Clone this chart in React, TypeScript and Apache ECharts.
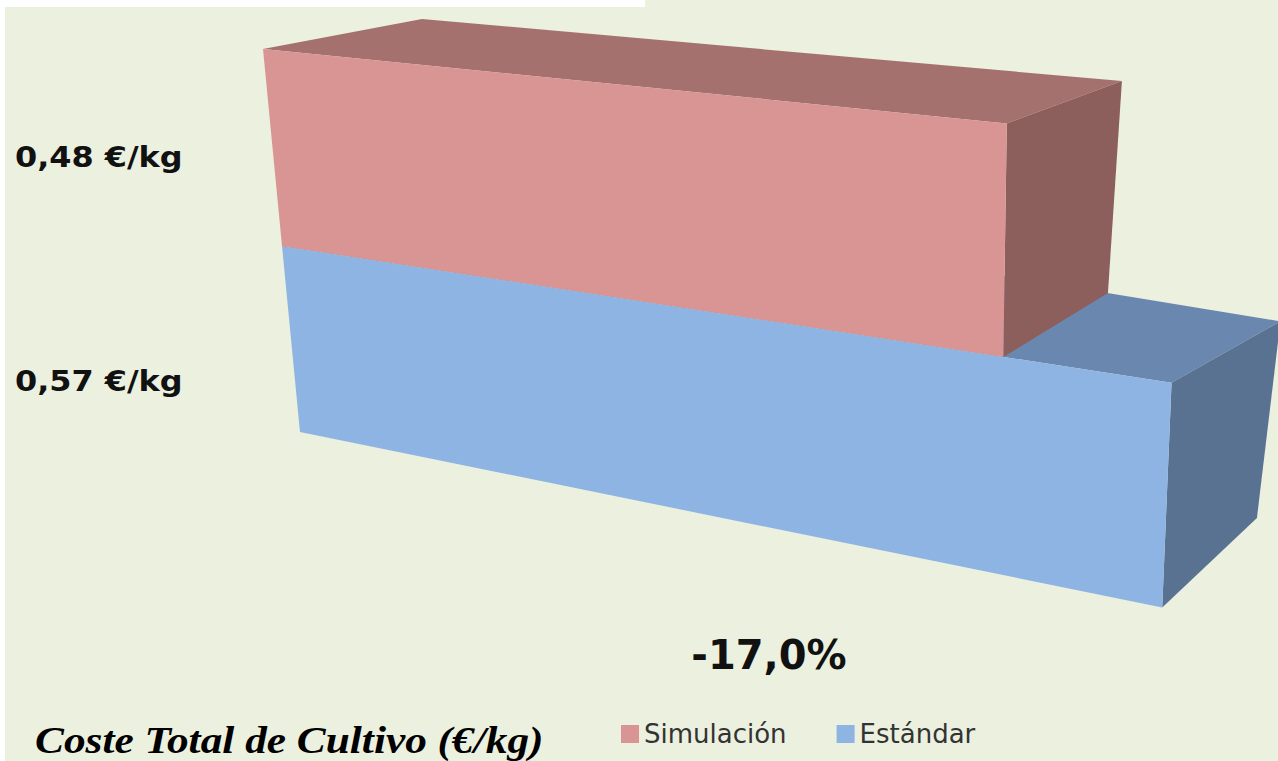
import React, { useEffect, useRef } from "react";
import * as echarts from "echarts";

// ---- data ----
const categories = ["Estándar", "Simulación"];
const costs = [0.57, 0.48];
const legendOrder = ["Simulación", "Estándar"];
const changeLabel = "-17,0%";
const chartTitle = "Coste Total de Cultivo (€/kg)";
const axisMin = 0;
const axisMax = 0.6;

// ---- styles ----
const faceColors: Record<string, { front: string; top: string; side: string }> = {
  "Simulación": { front: "#D99594", top: "#A5716F", side: "#8C5E5C" },
  "Estándar": { front: "#8DB4E2", top: "#6A88AF", side: "#5A7291" },
};
const labelY: Record<string, number> = { "Simulación": 157, "Estándar": 381 };

// view transform: the flat plot rectangle is projected onto a front wall and a back wall
const FRONT_QUAD = [[263, 49], [1243, 147], [1219, 619], [300, 432]];
const BACK_QUAD = [[422, 19], [1374.5, 103.4], [1314.9, 531.4], [463.8, 334.7]];

function squareToQuad(q: number[][]) {
  const [x0, y0] = q[0], [x1, y1] = q[1], [x2, y2] = q[2], [x3, y3] = q[3];
  const dx1 = x1 - x2, dx2 = x3 - x2, dx3 = x0 - x1 + x2 - x3;
  const dy1 = y1 - y2, dy2 = y3 - y2, dy3 = y0 - y1 + y2 - y3;
  const den = dx1 * dy2 - dx2 * dy1;
  const g = (dx3 * dy2 - dx2 * dy3) / den;
  const h = (dx1 * dy3 - dx3 * dy1) / den;
  const a = x1 - x0 + g * x1, b = x3 - x0 + h * x3, c = x0;
  const d = y1 - y0 + g * y1, e = y3 - y0 + h * y3, f = y0;
  return (s: number, t: number) => {
    const w = g * s + h * t + 1;
    return [(a * s + b * t + c) / w, (d * s + e * t + f) / w];
  };
}
const projFront = squareToQuad(FRONT_QUAD);
const projBack = squareToQuad(BACK_QUAD);

const fmt = (v: number) => v.toFixed(2).replace(".", ",") + " €/kg";

export default function App() {
  const ref = useRef<HTMLDivElement>(null);
  useEffect(() => {
    document.body.style.margin = "0";
    const chart = echarts.init(ref.current!, null, { renderer: "svg" });

    const makeRender = (name: string) => (params: any, api: any) => {
      const cs = params.coordSys;
      const val = api.value(0);
      const idx = api.value(1);
      const p0 = api.coord([axisMin, idx]);
      const p1 = api.coord([val, idx]);
      const bh = api.size([0, 1])[1];
      const yT = p0[1] - bh / 2;
      const yB = p0[1] + bh / 2;
      const n = (x: number, y: number): [number, number] => [(x - cs.x) / cs.width, (y - cs.y) / cs.height];
      const F = (x: number, y: number) => projFront(...n(x, y));
      const B = (x: number, y: number) => projBack(...n(x, y));
      const x0 = p0[0], x1 = p1[0];
      const col = faceColors[name];
      return {
        type: "group",
        children: [
          { type: "polygon", shape: { points: [F(x0, yT), F(x1, yT), B(x1, yT), B(x0, yT)] }, style: { fill: col.top } },
          { type: "polygon", shape: { points: [F(x1, yT), F(x1, yB), B(x1, yB), B(x1, yT)] }, style: { fill: col.side } },
          { type: "polygon", shape: { points: [F(x0, yT), F(x1, yT), F(x1, yB), F(x0, yB)] }, style: { fill: col.front } },
        ],
      };
    };

    const series = categories.map((name, i) => ({
      type: "custom",
      name,
      renderItem: makeRender(name),
      data: [[costs[i], i]],
      encode: { x: 0, y: 1 },
      itemStyle: { color: faceColors[name].front },
      silent: true,
    }));

    const labelGraphics = categories.map((name, i) => ({
      type: "text",
      x: 15,
      y: labelY[name],
      scaleX: 1.1,
      style: {
        text: fmt(costs[i]),
        fontFamily: "DejaVu Sans",
        fontWeight: "bold",
        fontSize: 29,
        fill: "#111",
        align: "left",
        verticalAlign: "middle",
      },
    }));

    chart.setOption({
      animation: false,
      backgroundColor: "#EBF0DF",
      grid: { left: 100, top: 100, width: 600, height: 300 },
      xAxis: { type: "value", min: axisMin, max: axisMax, show: false },
      yAxis: { type: "category", data: categories, show: false },
      legend: {
        data: legendOrder,
        left: 616,
        top: 716,
        icon: "rect",
        itemWidth: 18,
        itemHeight: 18,
        itemGap: 50,
        textStyle: { fontFamily: "DejaVu Sans", fontSize: 26, color: "#333" },
      },
      series,
      graphic: [
        { type: "rect", shape: { x: 0, y: 0, width: 645, height: 7 }, style: { fill: "#fff" } },
        { type: "rect", shape: { x: 0, y: 0, width: 5, height: 761 }, style: { fill: "#fff" } },
        ...labelGraphics,
        {
          type: "text",
          x: 769,
          y: 655,
          style: {
            text: changeLabel,
            fontFamily: "DejaVu Sans",
            fontWeight: "bold",
            fontSize: 40,
            fill: "#111",
            align: "center",
            verticalAlign: "middle",
          },
        },
        {
          type: "text",
          x: 35,
          y: 740,
          scaleX: 1.14,
          style: {
            text: chartTitle,
            fontFamily: "Liberation Serif",
            fontWeight: "bold",
            fontStyle: "italic",
            fontSize: 38,
            fill: "#000",
            align: "left",
            verticalAlign: "middle",
          },
        },
      ],
    });
    return () => chart.dispose();
  }, []);
  return <div ref={ref} style={{ position: "fixed", left: 0, top: 0, width: 1278, height: 761 }} />;
}
